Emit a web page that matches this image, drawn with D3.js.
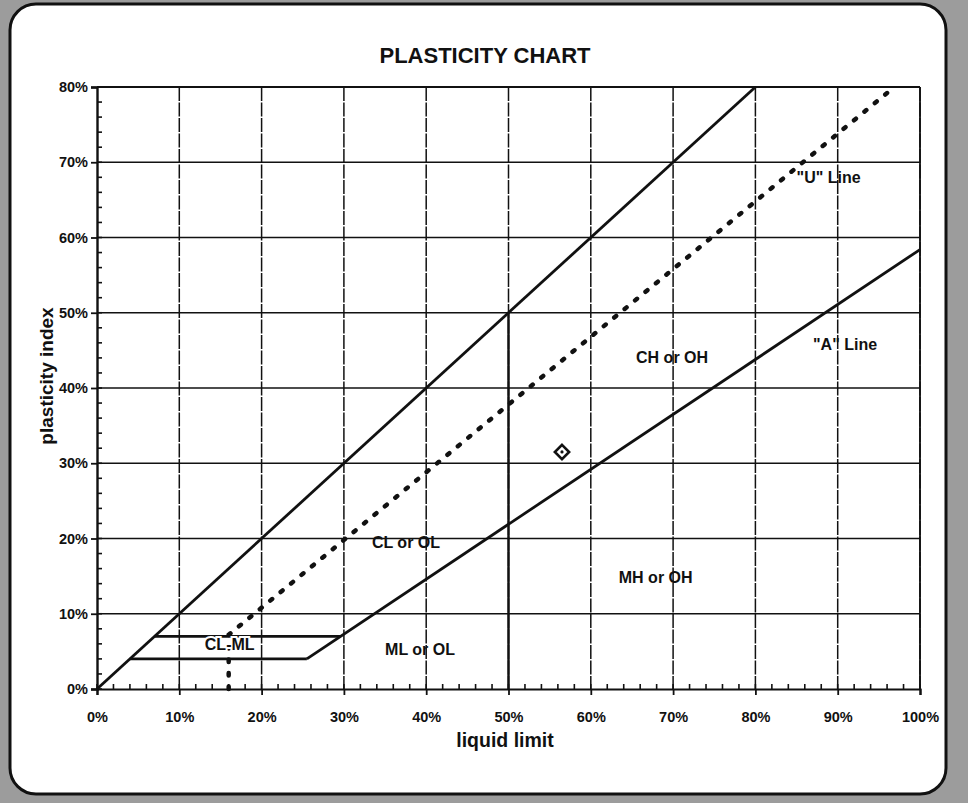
<!DOCTYPE html>
<html>
<head>
<meta charset="utf-8">
<script src="https://cdn.jsdelivr.net/npm/d3@7"></script>
<style>
  body { margin: 0; background: #9c9c9c; }
  text { font-family: "Liberation Sans", Arial, sans-serif; font-weight: bold; fill: #111; }
</style>
</head>
<body>
<script>
// data (percent)
var xTicks = [0,10,20,30,40,50,60,70,80,90,100];
var yTicks = [0,10,20,30,40,50,60,70,80];
var upperLine = [[0,0],[80,80]];
var aLine = [[25.5,4],[100,58.4]];
var clml7 = [[7,7],[29.6,7]];
var clml4 = [[4,4],[25.5,4]];
var llFifty = [[50,0],[50,50]];
var uLine = [[16,0],[16,7.2],[96,79.2]];
var samples = [[56.5,31.5]];
var zoneLabels = [
  {t:"\"U\" Line", x:85, y:67.2, halo:false},
  {t:"\"A\" Line", x:87, y:45, halo:false},
  {t:"CH or OH", x:65.5, y:43.3, halo:false},
  {t:"CL or OL", x:33.4, y:18.7, halo:false},
  {t:"MH or OH", x:63.4, y:14.1, halo:false},
  {t:"ML or OL", x:35, y:4.5, halo:false},
  {t:"CL-ML", x:13.1, y:5.2, halo:true}
];

var W = 968, H = 803;
var svg = d3.select("body").append("svg")
    .attr("width", W)
    .attr("height", H);

// page frame
svg.append("rect")
  .attr("x",10).attr("y",4).attr("width",936).attr("height",790)
  .attr("rx",26).attr("ry",26)
  .attr("fill","#fff").attr("stroke","#111").attr("stroke-width",3);

var L = 97, R = 920, T = 87, B = 689;
var x = d3.scaleLinear().domain([0,100]).range([L,R]);
var y = d3.scaleLinear().domain([0,80]).range([B,T]);

//****************************** grid ******************************
svg.selectAll(".hgrid")
  .data(yTicks.slice(1))
  .enter().append("line")
    .attr("x1",L).attr("x2",R)
    .attr("y1",function(d){return y(d)}).attr("y2",function(d){return y(d)})
    .attr("stroke","#111").attr("stroke-width",1.5);

svg.selectAll(".vgrid")
  .data(xTicks.slice(1))
  .enter().append("line")
    .attr("y1",T).attr("y2",B)
    .attr("x1",function(d){return x(d)}).attr("x2",function(d){return x(d)})
    .attr("stroke","#111").attr("stroke-width",1.5)
    .attr("stroke-dasharray","14,1.5");

// minor ticks every 2%
svg.selectAll(".xminor")
  .data(d3.range(0,101,2))
  .enter().append("line")
    .attr("x1",function(d){return x(d)}).attr("x2",function(d){return x(d)})
    .attr("y1",B).attr("y2",B-5)
    .attr("stroke","#111").attr("stroke-width",1.6);
svg.selectAll(".yminor")
  .data(d3.range(0,81,2))
  .enter().append("line")
    .attr("y1",function(d){return y(d)}).attr("y2",function(d){return y(d)})
    .attr("x1",L).attr("x2",L+5)
    .attr("stroke","#111").attr("stroke-width",1.6);

//****************************** axes ******************************
var xAxis = d3.axisBottom(x).tickValues(xTicks).tickSize(6).tickPadding(17)
  .tickFormat(function(d){return d+"%"});
var gx = svg.append("g").attr("transform","translate(0,"+B+")").call(xAxis);
gx.select(".domain").attr("stroke","#111").attr("stroke-width",2.2);
gx.selectAll(".tick line").attr("stroke","#111").attr("stroke-width",1.8);
gx.selectAll("text").attr("font-size",14.5).attr("fill","#111")
  .style("font-family","'Liberation Sans',Arial").style("font-weight","bold");

var yAxis = d3.axisLeft(y).tickValues(yTicks).tickSize(6).tickPadding(3)
  .tickFormat(function(d){return d+"%"});
var gy = svg.append("g").attr("transform","translate("+L+",0)").call(yAxis);
gy.select(".domain").attr("stroke","#111").attr("stroke-width",2.4);
gy.selectAll(".tick line").attr("stroke","#111").attr("stroke-width",1.8);
gy.selectAll("text").attr("font-size",14.5).attr("fill","#111")
  .style("font-family","'Liberation Sans',Arial").style("font-weight","bold");

// top and right frame
svg.append("line").attr("x1",L).attr("x2",R).attr("y1",T).attr("y2",T).attr("stroke","#111").attr("stroke-width",1.8);
svg.append("line").attr("x1",R).attr("x2",R).attr("y1",T).attr("y2",B).attr("stroke","#111").attr("stroke-width",1.8);

//****************************** lines ******************************
var line = d3.line().x(function(d){return x(d[0])}).y(function(d){return y(d[1])});

svg.append("path").attr("d",line(uLine))
  .attr("fill","none").attr("stroke","#111").attr("stroke-width",4.5)
  .attr("stroke-linecap","round").attr("stroke-dasharray","2.5,11");

[upperLine, aLine, clml7, clml4].forEach(function(p){
  svg.append("path").attr("d",line(p))
    .attr("fill","none").attr("stroke","#111").attr("stroke-width",2.8);
});
svg.append("path").attr("d",line(llFifty))
  .attr("fill","none").attr("stroke","#111").attr("stroke-width",2.4);

// sample point
var pts = svg.selectAll(".pt").data(samples).enter().append("g")
  .attr("transform",function(d){return "translate("+x(d[0])+","+y(d[1])+")"});
pts.append("path").attr("d", d3.symbol().type(d3.symbolDiamond2).size(130))
  .attr("fill","none").attr("stroke","#111").attr("stroke-width",2.6);
pts.append("circle").attr("r",1.6).attr("fill","#111");

//****************************** labels ******************************
svg.selectAll(".zone")
  .data(zoneLabels)
  .enter().append("text")
    .attr("x",function(d){return x(d.x)})
    .attr("y",function(d){return y(d.y)})
    .attr("font-size",16)
    .attr("stroke",function(d){return d.halo ? "#fff" : "none"})
    .attr("stroke-width",4).attr("paint-order","stroke")
    .text(function(d){return d.t});

svg.append("text").attr("x",485).attr("y",63).attr("text-anchor","middle")
  .attr("font-size",22).text("PLASTICITY CHART");

svg.append("text").attr("x",505).attr("y",747).attr("text-anchor","middle")
  .attr("font-size",19.5).text("liquid limit");

svg.append("text").attr("transform","translate(53,376) rotate(-90)")
  .attr("text-anchor","middle").attr("font-size",19).text("plasticity index");
</script>
</body>
</html>
